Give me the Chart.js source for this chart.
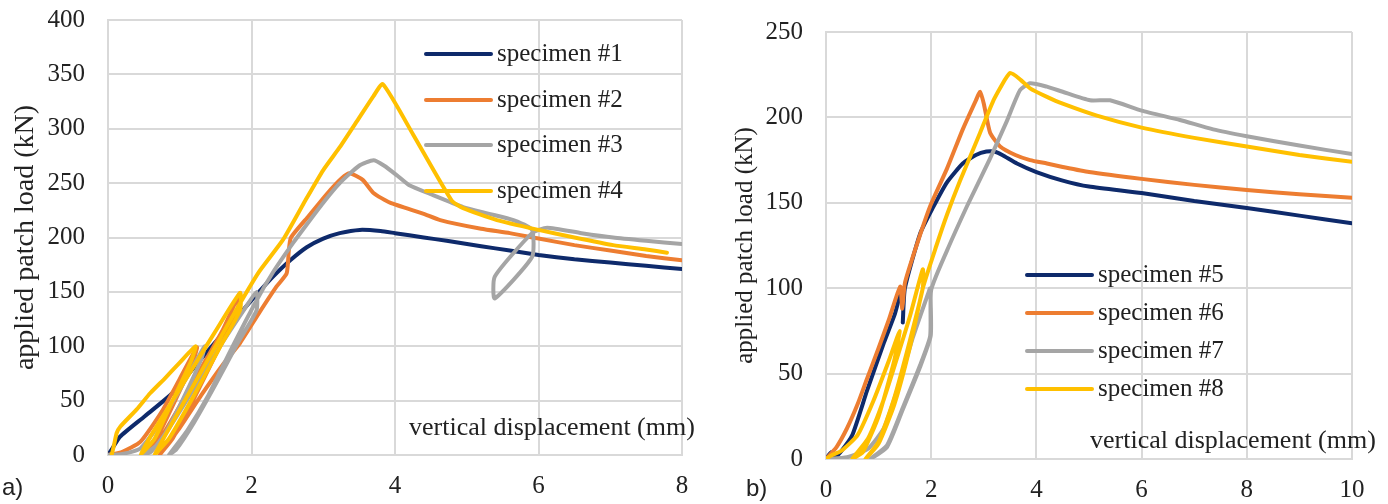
<!DOCTYPE html>
<html>
<head>
<meta charset="utf-8">
<script src="https://cdn.jsdelivr.net/npm/chart.js@4.4.0/dist/chart.umd.min.js"></script>
<style>
  body { margin: 0; background: #fff; width: 1388px; height: 504px; overflow: hidden; position: relative; }
  canvas { position: absolute; top: 0; }
  #grafA { left: 0; }
  #grafB { left: 700px; }
  .painel { position: absolute; font-family: "Liberation Sans", Arial, sans-serif; font-size: 24px; color: #222; line-height: 28px; }
</style>
</head>
<body>
<canvas id="grafA" width="700" height="504"></canvas>
<canvas id="grafB" width="688" height="504"></canvas>
<span class="painel" style="left:2px; top:473px">a)</span>
<span class="painel" style="left:746px; top:474px">b)</span>
<script>
// ------------------------------------------------------
// Dados: [deslocamento vertical (mm), carga (kN)]
// ------------------------------------------------------
const spec1 = [[0,0],[0.05,5],[0.17,17],[0.5,35],[0.9,57],[1.28,87],[1.8,127],[2.05,146],[2.3,164],[2.54,179],[2.77,191],[3.0,199],[3.23,204],[3.51,207],[3.8,206],[4.0,204],[4.4,200],[4.72,197],[5.2,192],[5.6,188],[6.0,184],[6.5,180],[7.0,177],[7.5,174],[8.0,171]];

const spec2 = [[0,0],[0.2,3],[0.45,12],[0.75,40],[1.0,70],[1.24,99],
  [1.18,85],[0.95,52],[0.7,18],[0.55,2],
  [0.7,12],[1.0,45],[1.3,80],[1.6,115],[1.84,149],
  [1.8,132],[1.5,92],[1.2,52],[0.9,15],[0.72,0],
  [1.0,25],[1.3,55],[1.6,83],[1.84,103],[2.1,130],[2.35,155],[2.49,167],[2.52,188],[2.55,200],
  [2.8,220],[3.05,240],[3.25,254],[3.37,259],[3.55,253],[3.7,241],[3.93,232],[4.39,222],[4.63,216],[5.2,208],[5.6,204],[6.0,199],[6.5,193],[7.0,188],[7.5,183],[8.0,179]];

const spec3 = [[0,0],[0.2,1],[0.45,6],[0.7,27],[1.0,60],[1.3,95],[1.35,100],
  [1.3,88],[1.05,52],[0.8,20],[0.6,3],[0.5,0],
  [0.7,10],[1.0,40],[1.3,72],[1.6,104],[1.9,134],[2.07,150],
  [2.07,133],[1.8,102],[1.5,65],[1.2,30],[0.95,5],[0.85,0],
  [1.1,22],[1.4,55],[1.7,95],[2.07,142],[2.3,168],[2.58,195],[2.77,212],[3.0,232],[3.23,250],[3.5,266],[3.7,271],[3.85,266],[4.03,257],[4.2,248],[4.49,240],[4.95,228],[5.3,222],[5.65,216],[5.91,207],
  [5.91,182],[5.39,144],[5.39,164],[5.91,204],
  [6.12,209],[6.6,204],[7.04,200],[7.5,197],[8.0,194]];

const spec4 = [[0.05,0],[0.08,8],[0.12,20],[0.17,26],[0.4,42],[0.59,57],[0.8,71],[1.0,85],[1.22,100],
  [1.15,85],[0.9,50],[0.65,15],[0.45,0],
  [0.6,18],[0.9,50],[1.2,82],[1.5,114],[1.84,149],
  [1.84,133],[1.55,98],[1.2,55],[0.85,15],[0.65,0],
  [0.9,30],[1.2,65],[1.5,100],[1.8,135],[2.1,168],[2.44,198],[2.75,234],[3.0,262],[3.23,283],[3.5,310],[3.7,330],[3.83,341],
  [4.25,295],[4.79,234],[4.95,227],[5.42,216],[6.0,207],[6.5,200],[7.04,193],[7.5,189],[7.79,186]];

const spec5 = [[0,0],[0.1,4],[0.17,1],[0.3,5],[0.5,14],[0.78,40],[1.1,68],[1.31,85],[1.44,99],[1.47,88],[1.46,80],[1.5,100],[1.79,132],[2.03,147],[2.3,162],[2.6,173],[2.85,178],[3.05,180],[3.2,180],[3.35,178],[3.63,173],[4.0,168],[4.5,163],[5.0,159.5],[6.0,155.7],[7.0,151],[8.0,147],[9.0,142.5],[10,138]];

const spec6 = [[0,0],[0.2,7],[0.4,18],[0.6,32],[0.78,47],[1.0,65],[1.2,82],[1.41,101],[1.45,88],[1.5,103],[1.7,123],[1.98,148],[2.3,170],[2.6,193],[2.85,210],[2.93,215],[3.0,208],[3.12,191],[3.31,183],[3.6,178],[3.88,175],[4.2,173],[4.5,171],[5.0,168],[6.0,164],[7.0,160.5],[8.0,157.5],[9.0,155],[10,153]];

const spec7 = [[0,0],[0.4,1],[0.8,6],[1.1,18],[1.35,40],[1.65,71],[1.92,95],[1.98,100],
  [1.99,92],[1.99,72],[1.79,54],[1.46,29],[1.16,7],[0.84,0],
  [1.16,8],[1.46,30],[1.79,55],[1.98,72],[2.0,99],
  [2.3,122],[2.68,148],[2.9,162],[3.12,176],[3.44,198],[3.69,216],[3.88,220],[4.2,218],[4.5,215],[5.02,210],[5.4,210],[6.0,204],[6.73,198.5],[7.36,193],[8.0,189],[9.0,183.5],[10,178.5]];

const spec8 = [[0,0],[0.1,2],[0.3,5],[0.6,14],[0.9,34],[1.2,58],[1.4,75],
  [1.3,58],[1.0,25],[0.7,4],[0.5,0],
  [0.8,12],[1.1,35],[1.4,64],[1.6,84],[1.84,111],
  [1.84,100],[1.6,70],[1.3,36],[1.0,10],[0.75,0],
  [1.0,9],[1.3,32],[1.6,66],[1.84,100],[2.1,125],[2.3,143],[2.55,163],[2.93,191],[3.2,211],[3.5,226],[3.7,222],[3.88,217],[4.2,212],[4.5,208],[5.15,201],[6.0,194],[7.0,188],[8.0,183],[9.0,178],[10,174]];

const nomesA = ["specimen #1", "specimen #2", "specimen #3", "specimen #4"];
const nomesB = ["specimen #5", "specimen #6", "specimen #7", "specimen #8"];
const cores = ["#0e2a6b", "#ed7d31", "#a5a5a5", "#ffc000"];

const tituloX = "vertical displacement (mm)";
const tituloY = "applied patch load (kN)";

const FONTE = "'Liberation Serif', 'Times New Roman', serif";
const TEXTO = "#222";
const GRADE = "#d9d9d9";

function pontos(lista) {
  return lista.map(([x, y]) => ({ x, y }));
}

// ------------------------------------------------------
// Legenda e titulo do eixo X dentro da area do grafico
// ------------------------------------------------------
const legendaInterna = {
  id: "legendaInterna",
  afterDatasetsDraw(chart, args, o) {
    const ctx = chart.ctx;
    ctx.save();
    ctx.textBaseline = "middle";
    ctx.font = `25px ${FONTE}`;
    chart.data.datasets.forEach((ds, i) => {
      const y = o.linhas[i];
      ctx.strokeStyle = ds.borderColor;
      ctx.lineWidth = 4;
      ctx.lineCap = "round";
      ctx.beginPath();
      ctx.moveTo(o.x0, y);
      ctx.lineTo(o.x1, y);
      ctx.stroke();
      ctx.fillStyle = TEXTO;
      ctx.fillText(ds.label, o.x1 + 6, y);
    });
    ctx.font = `26px ${FONTE}`;
    ctx.fillText(tituloX, o.tx, o.ty);
    ctx.restore();
  }
};

// ------------------------------------------------------
// Criar grafico
// ------------------------------------------------------
function criarGrafico(id, series, nomes, cfg) {
  const datasets = series.map((s, i) => ({
    label: nomes[i],
    data: pontos(s),
    showLine: true,
    borderColor: cores[i],
    backgroundColor: cores[i],
    borderWidth: 4,
    pointRadius: 0,
    tension: 0.18,
    borderCapStyle: "round",
    borderJoinStyle: "round",
    order: series.length - i
  }));

  return new Chart(document.getElementById(id), {
    type: "scatter",
    data: { datasets },
    plugins: [legendaInterna],
    options: {
      responsive: false,
      animation: false,
      layout: { padding: { top: cfg.topo, right: cfg.direita, bottom: 0, left: 0 } },
      plugins: {
        legend: { display: false },
        tooltip: { enabled: false },
        legendaInterna: cfg.legenda
      },
      scales: {
        x: {
          type: "linear",
          min: 0,
          max: cfg.xMax,
          ticks: { stepSize: 2, padding: 16, color: TEXTO, font: { family: FONTE, size: 25 } },
          grid: { color: GRADE, lineWidth: 2, drawTicks: false },
          border: { color: GRADE, width: 2 },
          afterFit: (s) => {
            s.height = cfg.alturaX;
            s.paddingLeft = 0;
            s.paddingRight = 0;
          }
        },
        y: {
          type: "linear",
          min: 0,
          max: cfg.yMax,
          ticks: { stepSize: 50, padding: 23, color: TEXTO, font: { family: FONTE, size: 25 } },
          grid: { color: GRADE, lineWidth: 2, drawTicks: false },
          border: { color: GRADE, width: 2 },
          title: {
            display: true,
            text: tituloY,
            color: TEXTO,
            font: { family: FONTE, size: cfg.tamTitulo },
            padding: { top: cfg.padTitulo, bottom: 0 }
          },
          afterFit: (s) => {
            s.width = cfg.larguraY;
            s.paddingTop = 0;
            s.paddingBottom = 0;
          }
        }
      }
    }
  });
}

criarGrafico("grafA", [spec1, spec2, spec3, spec4], nomesA, {
  topo: 20, direita: 18, alturaX: 49, larguraY: 108,
  xMax: 8, yMax: 400, tamTitulo: 28, padTitulo: 9,
  legenda: { x0: 426, x1: 491, linhas: [54, 100, 145, 191], tx: 409, ty: 428 }
});

criarGrafico("grafB", [spec5, spec6, spec7, spec8], nomesB, {
  topo: 32, direita: 36, alturaX: 45, larguraY: 126,
  xMax: 10, yMax: 250, tamTitulo: 25, padTitulo: 30,
  legenda: { x0: 327, x1: 392, linhas: [275, 313, 351, 389], tx: 390, ty: 441 }
});
</script>
</body>
</html>
